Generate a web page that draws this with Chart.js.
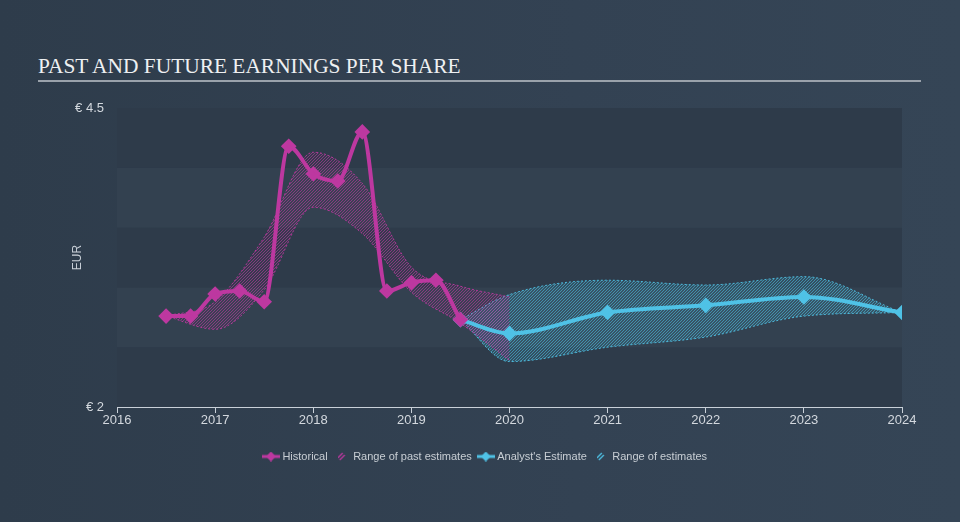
<!DOCTYPE html>
<html>
<head>
<meta charset="utf-8">
<script src="https://cdn.jsdelivr.net/npm/chart.js@4.4.0/dist/chart.umd.min.js"></script>
<style>
html, body { margin: 0; padding: 0; }
body {
    width: 960px; height: 522px; position: relative; overflow: hidden;
    background: linear-gradient(90deg, #2e3c4b 0%, #334253 60%, #354556 100%);
}
#title {
    position: absolute; left: 38px; top: 54px;
    font-family: "Liberation Serif", "Times New Roman", serif;
    font-size: 21.4px; color: #eef0f2; white-space: nowrap;
}
#rule { position: absolute; left: 38px; top: 80px; width: 883px; height: 2px; background: #9aa2ab; }
#wrap { position: absolute; left: 0; top: 0; width: 960px; height: 522px; }
</style>
</head>
<body>
<div id="title">PAST AND FUTURE EARNINGS PER SHARE</div>
<div id="rule"></div>
<div id="wrap"><canvas id="epsChart" width="960" height="522"></canvas></div>
<script>
// data
const histYears = [2016.5, 2016.75, 2017, 2017.25, 2017.5, 2017.75, 2018, 2018.25, 2018.5, 2018.75, 2019, 2019.25, 2019.5];
const histEps = [2.76, 2.76, 2.945, 2.97, 2.88, 4.18, 3.95, 3.89, 4.30, 2.97, 3.04, 3.06, 2.73];

const pastRangeYears = [2016.5, 2017, 2017.5, 2018, 2018.5, 2019, 2019.5, 2020];
const pastHigh = [2.76, 2.88, 3.42, 4.13, 3.87, 3.17, 3.01, 2.92];
const pastLow = [2.76, 2.65, 2.98, 3.67, 3.45, 2.96, 2.70, 2.39];

const estYears = [2019.5, 2020, 2021, 2022, 2023, 2024];
const estEps = [2.73, 2.615, 2.79, 2.85, 2.92, 2.79];
const estHigh = [2.73, 2.94, 3.06, 3.02, 3.09, 2.79];
const estLow = [2.73, 2.38, 2.50, 2.585, 2.76, 2.79];

const yTicks = [2, 4.5];
const bandEdges = [2, 2.5, 3, 3.5, 4, 4.5];

const MAGENTA = '#bd38a0';
const CYAN = '#4fc2e6';
const FONT = '"Liberation Sans", Arial, sans-serif';

function pts(xs, ys) {
    return xs.map((x, i) => ({ x: x, y: ys[i] }));
}

function hatch(line, bg) {
    const c = document.createElement('canvas');
    c.width = 3; c.height = 3;
    const g = c.getContext('2d');
    if (bg) { g.fillStyle = bg; g.fillRect(0, 0, 3, 3); }
    g.strokeStyle = line;
    g.lineWidth = 1;
    g.beginPath();
    g.moveTo(0, 3); g.lineTo(3, 0);
    g.moveTo(-1, 1); g.lineTo(1, -1);
    g.moveTo(2, 4); g.lineTo(4, 2);
    g.stroke();
    return g.createPattern(c, 'repeat');
}

// legend icons
function lineIcon(color) {
    const c = document.createElement('canvas');
    c.width = 18; c.height = 10;
    const g = c.getContext('2d');
    g.strokeStyle = color; g.lineWidth = 3;
    g.beginPath(); g.moveTo(0, 5); g.lineTo(18, 5); g.stroke();
    g.fillStyle = color;
    g.beginPath(); g.moveTo(9, 0); g.lineTo(14, 5); g.lineTo(9, 10); g.lineTo(4, 5); g.closePath(); g.fill();
    return c;
}
function hatchIcon(color) {
    const c = document.createElement('canvas');
    c.width = 8; c.height = 9;
    const g = c.getContext('2d');
    g.strokeStyle = color; g.lineWidth = 1.3;
    g.beginPath();
    g.moveTo(0, 6); g.lineTo(5, 1);
    g.moveTo(2, 8); g.lineTo(7, 3);
    g.stroke();
    return c;
}

const bands = {
    id: 'bands',
    beforeDatasetsDraw(chart) {
        const { ctx, chartArea, scales } = chart;
        ctx.save();
        for (let i = 0; i < bandEdges.length - 1; i++) {
            const y1 = scales.y.getPixelForValue(bandEdges[i + 1]);
            const y0 = scales.y.getPixelForValue(bandEdges[i]);
            ctx.fillStyle = i % 2 === 0 ? '#2e3b4a' : '#334150';
            ctx.fillRect(chartArea.left, y1, chartArea.right - chartArea.left, y0 - y1);
        }
        ctx.restore();
    }
};

const legendItems = [
    { text: 'Historical', pointStyle: lineIcon(MAGENTA) },
    { text: 'Range of past estimates', pointStyle: hatchIcon(MAGENTA) },
    { text: "Analyst's Estimate", pointStyle: lineIcon(CYAN) },
    { text: 'Range of estimates', pointStyle: hatchIcon(CYAN) }
];

const ctx = document.getElementById('epsChart');

new Chart(ctx, {
    type: 'line',
    data: {
        datasets: [
            {
                label: 'Historical',
                data: pts(histYears, histEps),
                borderColor: MAGENTA,
                backgroundColor: MAGENTA,
                borderWidth: 4,
                pointStyle: 'rectRot',
                pointRadius: 5,
                cubicInterpolationMode: 'monotone',
                fill: false,
                order: 0
            },
            {
                label: 'Range of past estimates',
                data: pts(pastRangeYears, pastHigh),
                borderColor: 'rgba(189,56,160,0.9)',
                borderWidth: 1,
                borderDash: [2, 2],
                pointRadius: 0,
                backgroundColor: hatch('rgba(189,56,160,0.6)', 'rgba(189,56,160,0.06)'),
                cubicInterpolationMode: 'monotone',
                fill: { target: 2 },
                order: 1
            },
            {
                label: 'past low',
                data: pts(pastRangeYears, pastLow),
                borderColor: 'rgba(189,56,160,0.9)',
                borderWidth: 1,
                borderDash: [2, 2],
                pointRadius: 0,
                cubicInterpolationMode: 'monotone',
                fill: false,
                order: 1
            },
            {
                label: "Analyst's Estimate",
                data: pts(estYears, estEps),
                borderColor: CYAN,
                backgroundColor: CYAN,
                borderWidth: 4,
                pointStyle: 'rectRot',
                pointRadius: 5,
                cubicInterpolationMode: 'monotone',
                fill: false,
                order: 0
            },
            {
                label: 'Range of estimates',
                data: pts(estYears, estHigh),
                borderColor: 'rgba(79,194,230,0.9)',
                borderWidth: 1,
                borderDash: [2, 2],
                pointRadius: 0,
                backgroundColor: hatch('rgba(79,194,230,0.55)', 'rgba(79,194,230,0.15)'),
                cubicInterpolationMode: 'monotone',
                fill: { target: 5 },
                order: 1
            },
            {
                label: 'est low',
                data: pts(estYears, estLow),
                borderColor: 'rgba(79,194,230,0.9)',
                borderWidth: 1,
                borderDash: [2, 2],
                pointRadius: 0,
                cubicInterpolationMode: 'monotone',
                fill: false,
                order: 1
            }
        ]
    },
    options: {
        responsive: false,
        animation: false,
        layout: { padding: { left: 70, right: 58, top: 108, bottom: 50 } },
        scales: {
            x: {
                type: 'linear',
                min: 2016,
                max: 2024,
                ticks: {
                    stepSize: 1,
                    color: '#d3d8de',
                    font: { family: FONT, size: 13 },
                    padding: 0,
                    maxRotation: 0,
                    callback: v => String(v)
                },
                grid: { drawOnChartArea: false, drawTicks: true, tickLength: 6, color: '#c9d0d8' },
                border: { color: '#c9d0d8', width: 1 },
                afterFit: s => { s.height = 36; }
            },
            y: {
                min: 2,
                max: 4.5,
                afterBuildTicks: s => { s.ticks = yTicks.map(v => ({ value: v })); },
                ticks: {
                    color: '#d3d8de',
                    font: { family: FONT, size: 13 },
                    padding: 13,
                    callback: v => '€ ' + v
                },
                grid: { display: false, drawTicks: false },
                border: { display: false },
                title: {
                    display: true,
                    text: 'EUR',
                    color: '#c9d0d8',
                    font: { family: FONT, size: 12 },
                    padding: 0
                },
                afterFit: s => { s.width = 47; }
            }
        },
        plugins: {
            legend: {
                position: 'bottom',
                labels: {
                    usePointStyle: true,
                    pointStyleWidth: 12,
                    padding: 8,
                    color: '#c8ced4',
                    font: { family: FONT, size: 11 },
                    generateLabels: () => legendItems.map(it => ({
                        text: it.text,
                        pointStyle: it.pointStyle,
                        fontColor: '#c8ced4',
                        fillStyle: 'transparent',
                        strokeStyle: 'transparent',
                        lineWidth: 0,
                        hidden: false
                    }))
                }
            },
            tooltip: { enabled: false }
        }
    },
    plugins: [bands]
});
</script>
</body>
</html>
